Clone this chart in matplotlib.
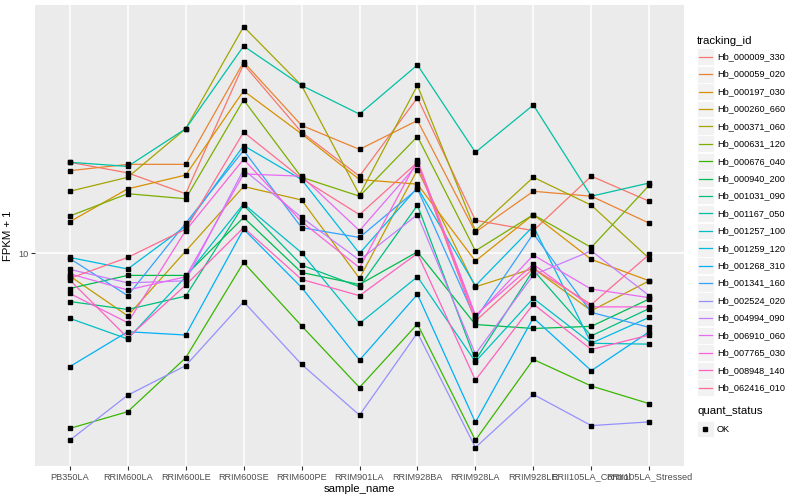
import matplotlib.pyplot as plt
from matplotlib.lines import Line2D
from matplotlib.patches import Rectangle
from matplotlib.ticker import FixedLocator, NullLocator

plt.rcParams["font.family"] = ["Liberation Sans", "DejaVu Sans"]

samples = ["PB350LA", "RRIM600LA", "RRIM600LE", "RRIM600SE", "RRIM600PE", "RRIM901LA",
           "RRIM928BA", "RRIM928LA", "RRIM928LE", "RRII105LA_Control", "RRII105LA_Stressed"]

tracking_ids = ["Hb_000009_330", "Hb_000059_020", "Hb_000197_030", "Hb_000260_660",
                "Hb_000371_060", "Hb_000631_120", "Hb_000676_040", "Hb_000940_200",
                "Hb_001031_090", "Hb_001167_050", "Hb_001257_100", "Hb_001259_120",
                "Hb_001268_310", "Hb_001341_160", "Hb_002524_020", "Hb_004994_090",
                "Hb_006910_060", "Hb_007765_030", "Hb_008948_140", "Hb_062416_010"]

# ggplot default hue palette, 20 levels
colors = ["#F8766D", "#EA8331", "#D89000", "#C09B00", "#A3A500", "#7CAE00", "#39B600",
          "#00BB4E", "#00BF7D", "#00C1A3", "#00BFC4", "#00BAE0", "#00B0F6", "#35A2FF",
          "#9590FF", "#C77CFF", "#E76BF3", "#FA62DB", "#FF62BC", "#FF6C91"]

# FPKM + 1 per sample (same order as samples)
hb_000009_330 = [16.9, 15.9, 14.1, 29.7, 20.1, 15.6, 24.5, 12.1, 11.4, 15.6, 13.5]
hb_000059_020 = [16.1, 16.7, 16.7, 30.1, 20.9, 18.2, 21.5, 11.3, 14.3, 13.9, 11.9]
hb_000197_030 = [12.0, 14.5, 15.7, 25.5, 19.9, 15.3, 14.9, 9.57, 12.5, 9.66, 8.54]
hb_000260_660 = [8.78, 6.98, 10.13, 14.7, 13.6, 8.66, 16.2, 8.25, 9.17, 7.19, 8.54]
hb_000371_060 = [14.3, 15.5, 20.5, 36.9, 26.3, 14.0, 26.3, 11.4, 15.5, 13.2, 9.71]
hb_000631_120 = [12.4, 14.1, 13.7, 24.2, 15.5, 13.9, 19.6, 10.15, 12.5, 10.35, 14.8]
hb_000676_040 = [3.65, 4.02, 5.48, 9.49, 6.59, 4.62, 6.66, 3.41, 5.43, 4.66, 4.21]
hb_000940_200 = [8.17, 8.81, 8.81, 12.3, 8.96, 8.36, 10.09, 6.64, 6.49, 6.57, 7.69]
hb_001031_090 = [7.58, 7.24, 7.82, 13.2, 9.35, 8.25, 13.2, 5.41, 9.08, 6.22, 7.28]
hb_001167_050 = [16.9, 16.5, 20.5, 33.0, 26.3, 22.3, 29.6, 17.9, 23.5, 13.9, 15.0]
hb_001257_100 = [6.88, 6.11, 8.74, 13.3, 10.04, 6.68, 8.74, 5.36, 7.72, 5.96, 5.93]
hb_001259_120 = [9.77, 9.14, 11.7, 18.6, 15.3, 10.0, 14.6, 8.30, 11.7, 5.96, 6.92]
hb_001268_310 = [5.21, 6.37, 6.25, 11.5, 8.22, 5.41, 7.90, 3.78, 6.90, 5.09, 6.37]
hb_001341_160 = [9.71, 7.84, 11.9, 18.1, 11.6, 10.96, 14.5, 6.85, 11.2, 7.12, 6.53]
hb_002524_020 = [3.41, 4.42, 5.24, 7.57, 5.28, 3.94, 6.33, 3.27, 4.44, 3.71, 3.79]
hb_004994_090 = [9.12, 8.44, 8.54, 16.2, 12.3, 9.62, 12.5, 5.60, 8.83, 10.15, 7.84]
hb_006910_060 = [8.89, 8.10, 8.74, 15.8, 15.6, 11.4, 16.7, 6.94, 9.90, 8.14, 7.75]
hb_007765_030 = [7.94, 6.71, 11.4, 17.2, 12.0, 9.21, 17.1, 7.01, 9.39, 7.35, 7.35]
hb_008948_140 = [8.58, 6.15, 8.33, 11.6, 8.61, 7.84, 10.0, 4.82, 7.47, 5.75, 6.25]
hb_062416_010 = [8.66, 9.77, 11.5, 20.1, 15.4, 12.5, 16.9, 6.77, 9.17, 7.45, 9.94]

series = [hb_000009_330, hb_000059_020, hb_000197_030, hb_000260_660, hb_000371_060,
          hb_000631_120, hb_000676_040, hb_000940_200, hb_001031_090, hb_001167_050,
          hb_001257_100, hb_001259_120, hb_001268_310, hb_001341_160, hb_002524_020,
          hb_004994_090, hb_006910_060, hb_007765_030, hb_008948_140, hb_062416_010]

W, H = 800, 500
fig = plt.figure(figsize=(8, 5), dpi=100)
ax = fig.add_axes([35 / W, 1 - 466 / H, (684 - 35) / W, (466 - 5) / H])
ax.set_facecolor("#EBEBEB")

x = list(range(len(samples)))
for vals, col in zip(series, colors):
    ax.plot(x, vals, color=col, lw=0.9, zorder=3)
for vals in series:
    ax.plot(x, vals, ls="none", marker="s", ms=2.6, color="black", zorder=4)

ax.set_yscale("log")
ax.set_ylim(2.94, 41.8)
ax.set_xlim(-0.6, 10.6)
ax.yaxis.set_major_locator(FixedLocator([10]))
ax.yaxis.set_minor_locator(NullLocator())
ax.set_yticklabels(["10"])
ax.set_xticks(x)
ax.set_xticklabels(samples)
ax.grid(True, color="white", lw=1.1, zorder=0)
ax.set_axisbelow(True)
for s in ax.spines.values():
    s.set_visible(False)
ax.tick_params(length=2.75, width=0.8, color="#333333", labelcolor="#4D4D4D",
               labelsize=6.6, pad=2)
ax.set_xlabel("sample_name", fontsize=8.2, labelpad=2)
ax.set_ylabel("FPKM + 1", fontsize=8.2, labelpad=4)

# legend drawn in figure pixels, ggplot style
def fx(px):
    return px / W

def fy(py):
    return 1 - py / H

fig.text(fx(697), fy(40.5), "tracking_id", fontsize=8.2, va="center", ha="left")
for i, (name, col) in enumerate(zip(tracking_ids, colors)):
    yc = 56.7 + i * 17.42
    fig.add_artist(Rectangle((fx(697), fy(yc + 8.4)), 16.8 / W, 16.8 / H,
                             transform=fig.transFigure, facecolor="#F2F2F2",
                             edgecolor="white", lw=0.6))
    fig.add_artist(Line2D([fx(699), fx(712)], [fy(yc), fy(yc)], color=col, lw=0.9,
                          transform=fig.transFigure))
    fig.text(fx(717), fy(yc), name, fontsize=6.6, va="center", ha="left")

fig.text(fx(697), fy(411), "quant_status", fontsize=8.2, va="center", ha="left")
fig.add_artist(Rectangle((fx(697), fy(429 + 8.4)), 16.8 / W, 16.8 / H,
                         transform=fig.transFigure, facecolor="#F2F2F2",
                         edgecolor="white", lw=0.6))
fig.add_artist(Line2D([fx(705.4)], [fy(429)], ls="none", marker="s", ms=2.6,
                      color="black", transform=fig.transFigure))
fig.text(fx(717), fy(429), "OK", fontsize=6.6, va="center", ha="left")

fig.savefig("out.png", dpi=100)
